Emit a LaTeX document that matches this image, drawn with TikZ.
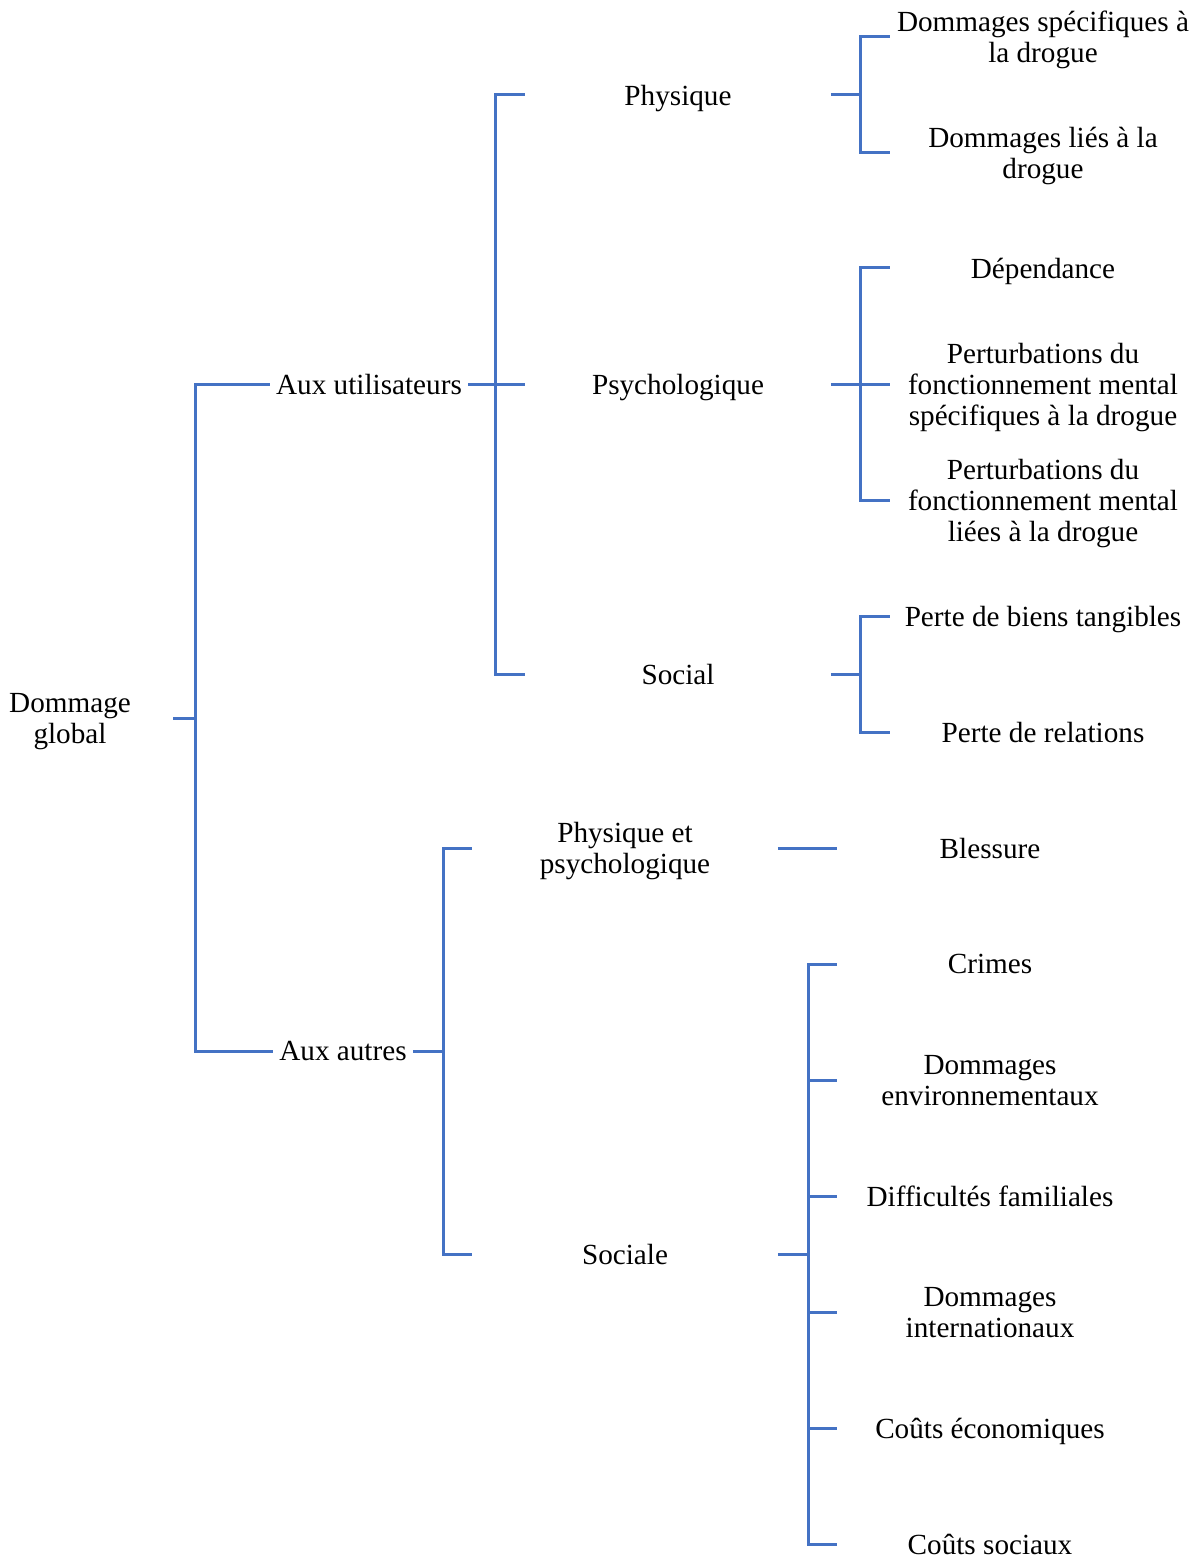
\documentclass[tikz,border=0pt]{standalone}
\usepackage{fontspec}
\setmainfont{Liberation Serif}
\usetikzlibrary{positioning}
\definecolor{linkblue}{HTML}{4472C4}
\tikzstyle{link} = [line width=1.5pt,draw=linkblue]
\tikzset{
every node/.style={font=\fontsize{14.6}{15.5}\selectfont,align=center,text depth=0pt},
style1/.style= {inner xsep=1.5pt},
style2/.style= {inner xsep=3pt},
style3/.style= {minimum width=152.5pt,inner xsep=0pt}
}

\begin{document}
\begin{tikzpicture}[x=0.5pt,y=-0.5pt,node distance=58pt]
\useasboundingbox (0,0) rectangle (1200,1557);

% the root and the two groups
\node[style1] (root) at (70,718) {Dommage\\global};
\node[style2] (u) at (369,384) {Aux utilisateurs};
\node[style2] (a) at (343,1051) {Aux autres};

% the kinds of harm in each group
\node[style3] (u1) at (678,95) {Physique};
\node[style3] (u2) at (678,384) {Psychologique};
\node[style3] (u3) at (678,674) {Social};
\node[style3] (a1) at (625,848) {Physique et\\psychologique};
\node[style3] (a2) at (625,1254) {Sociale};

% the nodes to the right of each kind
\node[style3] (u11) at (1043,37) {Dommages spécifiques à\\la drogue};
\node[style3,below of = u11] (u12) {Dommages liés à la\\drogue};

\node[style3] (u21) at (1043,268) {Dépendance};
\node[style3,below of = u21] (u22) {Perturbations du\\fonctionnement mental\\spécifiques à la drogue};
\node[style3,below of = u22] (u23) {Perturbations du\\fonctionnement mental\\liées à la drogue};

\node[style3] (u31) at (1043,616) {Perte de biens tangibles};
\node[style3,below of = u31] (u32) {Perte de relations};

\node[style3] (a11) at (990,848) {Blessure};

\node[style3] (a21) at (990,964) {Crimes};
\node[style3,below of = a21] (a22) {Dommages\\environnementaux};
\node[style3,below of = a22] (a23) {Difficultés familiales};
\node[style3,below of = a23] (a24) {Dommages\\internationaux};
\node[style3,below of = a24] (a25) {Coûts économiques};
\node[style3,below of = a25] (a26) {Coûts sociaux};

% the points where the brackets stand
\coordinate (s0) at (195,718);
\coordinate (s1) at (495,384);
\coordinate (s2) at (443,1051);
\coordinate (t1) at (860,95);
\coordinate (t2) at (860,384);
\coordinate (t3) at (860,674);
\coordinate (t5) at (808,1254);

% lines from the root to the groups
\draw[link,shorten <=19.5pt] (root.east) -- (s0);
\foreach \n in {u,a}
  \draw[link] (s0) |- (\n.west);

% lines from each group to its kinds
\draw[link] (u.east) -- (u2.west);
\foreach \value in {1,3}
  \draw[link] (s1) |- (u\value.west);

\draw[link] (a.east) -- (s2);
\foreach \value in {1,2}
  \draw[link] (s2) |- (a\value.west);

% lines from each kind to every one of its "children"
\draw[link] (u1.east) -- (t1);
\foreach \value in {1,2}
  \draw[link] (t1) |- (u1\value.west);

\draw[link] (u2.east) -- (u22.west);
\foreach \value in {1,3}
  \draw[link] (t2) |- (u2\value.west);

\draw[link] (u3.east) -- (t3);
\foreach \value in {1,2}
  \draw[link] (t3) |- (u3\value.west);

\draw[link] (a1.east) -- (a11.west);

\draw[link] (a2.east) -- (t5);
\foreach \value in {1,...,6}
  \draw[link] (t5) |- (a2\value.west);

\end{tikzpicture}
\end{document}
